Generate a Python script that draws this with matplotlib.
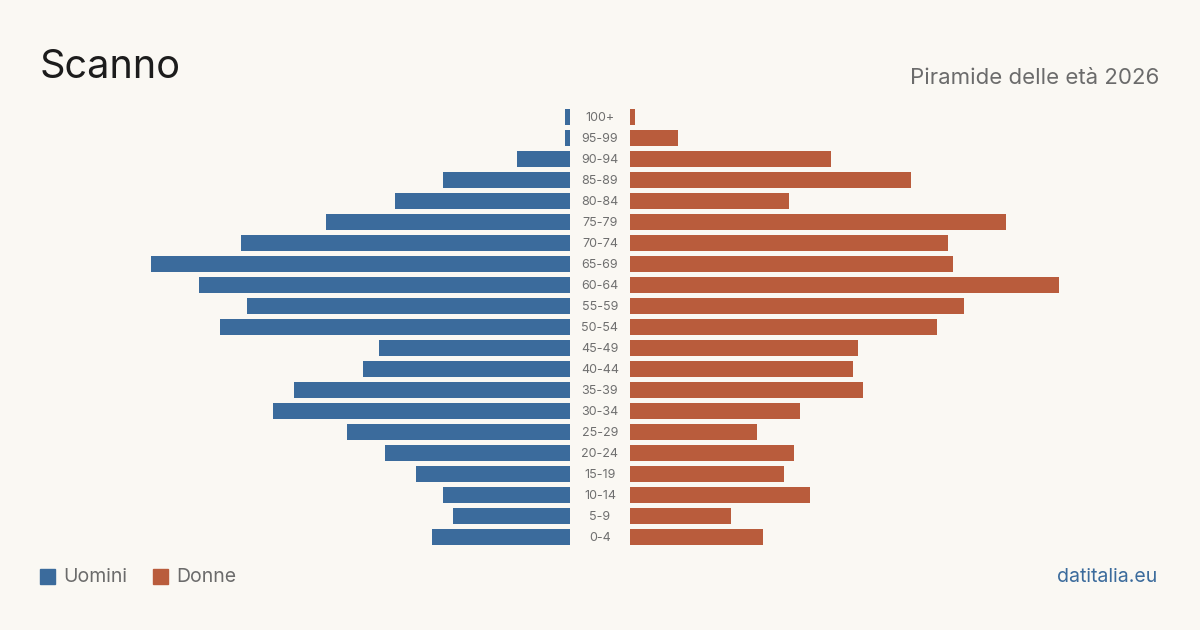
import matplotlib.pyplot as plt
from matplotlib.patches import Rectangle

plt.rcParams['font.family'] = ['Inter', 'DejaVu Sans']

# data: population by age group, Scanno 2026
age_groups = ['100+', '95-99', '90-94', '85-89', '80-84', '75-79', '70-74',
              '65-69', '60-64', '55-59', '50-54', '45-49', '40-44', '35-39',
              '30-34', '25-29', '20-24', '15-19', '10-14', '5-9', '0-4']
men = [1, 1, 10, 24, 33, 46, 62, 79, 70, 61, 66, 36, 39, 52, 56, 42, 35, 29, 24, 22, 26]
women = [1, 9, 38, 53, 30, 71, 60, 61, 81, 63, 58, 43, 42, 44, 32, 24, 31, 29, 34, 19, 25]

bg = '#faf8f3'
blue = '#3b6b9c'
orange = '#b95c3c'

W, H = 1200, 630
fig = plt.figure(figsize=(12, 6.3), dpi=100, facecolor=bg)

# axes in pixel coords: top of first row ~107, bottom of last row ~548
top, bottom = 106.5, 547.5
ax_l = fig.add_axes([40 / W, 1 - bottom / H, 530 / W, (bottom - top) / H])
ax_r = fig.add_axes([630 / W, 1 - bottom / H, 530 / W, (bottom - top) / H])

y = list(range(len(age_groups)))
ax_l.barh(y, men, height=0.8, color=blue)
ax_r.barh(y, women, height=0.8, color=orange)

for ax in (ax_l, ax_r):
    ax.set_xlim(0, 100)
    ax.set_ylim(len(age_groups) - 0.5, -0.5)
    ax.set_facecolor('none')
    ax.axis('off')
ax_l.invert_xaxis()

# age labels in the gap
for i, lab in enumerate(age_groups):
    ax_r.annotate(lab, xy=(0, i), xytext=(-30, -1), textcoords='offset pixels',
                  ha='center', va='center', fontsize=9, color='#6f6f6f')

# titles
fig.text(40 / W, 1 - 68 / H, 'Scanno', fontsize=28.5, color='#1c1c1c',
         ha='left', va='center')
fig.text(1159 / W, 1 - 78 / H, 'Piramide delle età 2026', fontsize=16,
         color='#6b6b6b', ha='right', va='center')

# legend
fig.patches.append(Rectangle((40 / W, 1 - 584 / H), 15 / W, 15 / H,
                             transform=fig.transFigure, color=blue))
fig.text(63 / W, 1 - 577 / H, 'Uomini', fontsize=14, color='#6b6b6b',
         ha='left', va='center')
fig.patches.append(Rectangle((153 / W, 1 - 584 / H), 15 / W, 15 / H,
                             transform=fig.transFigure, color=orange))
fig.text(176 / W, 1 - 577 / H, 'Donne', fontsize=14, color='#6b6b6b',
         ha='left', va='center')

fig.text(1157 / W, 1 - 577 / H, 'datitalia.eu', fontsize=14, color=blue,
         ha='right', va='center')

fig.savefig('out.png', dpi=100, facecolor=bg)
